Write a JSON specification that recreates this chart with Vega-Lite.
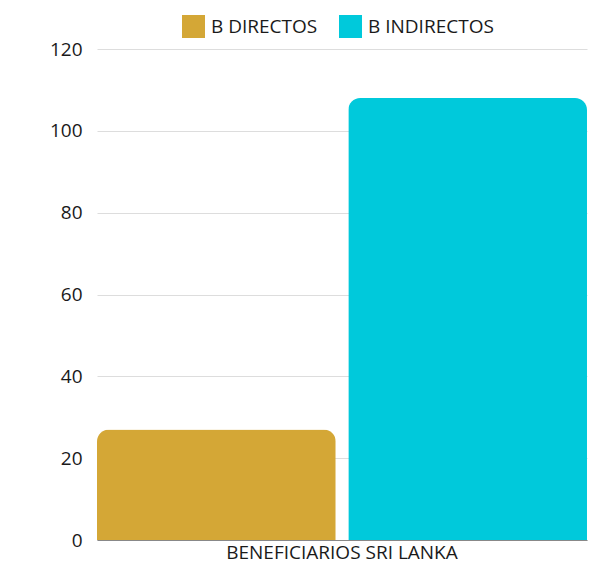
{
  "$schema": "https://vega.github.io/schema/vega-lite/v6.json",
  "width": 490,
  "height": 491,
  "autosize": {"type": "none"},
  "padding": {"left": 97, "top": 49, "right": 21, "bottom": 26},
  "background": "white",
  "config": {
    "font": "Open Sans",
    "view": {"stroke": null}
  },
  "data": {
    "values": [
      {"grupo": "BENEFICIARIOS SRI LANKA", "serie": "B DIRECTOS", "valor": 27},
      {"grupo": "BENEFICIARIOS SRI LANKA", "serie": "B INDIRECTOS", "valor": 108}
    ]
  },
  "mark": {"type": "bar", "cornerRadiusTopLeft": 12, "cornerRadiusTopRight": 12},
  "encoding": {
    "x": {
      "field": "grupo",
      "type": "nominal",
      "scale": {"paddingInner": 0, "paddingOuter": 0},
      "axis": {
        "title": null,
        "labelAngle": 0,
        "labelFontSize": 19,
        "labelColor": "#1a1a1a",
        "labelLimit": 0,
        "ticks": false,
        "domainColor": "#888",
        "labelPadding": 3
      }
    },
    "xOffset": {
      "field": "serie",
      "type": "nominal",
      "scale": {"paddingInner": 0.05, "paddingOuter": 0}
    },
    "y": {
      "field": "valor",
      "type": "quantitative",
      "scale": {"domain": [0, 120], "nice": false},
      "axis": {
        "title": null,
        "values": [0, 20, 40, 60, 80, 100, 120],
        "labelFontSize": 19,
        "labelColor": "#1a1a1a",
        "ticks": false,
        "domain": false,
        "gridColor": "#dddddd",
        "labelPadding": 15
      }
    },
    "color": {
      "field": "serie",
      "type": "nominal",
      "scale": {"domain": ["B DIRECTOS", "B INDIRECTOS"], "range": ["#D4A736", "#00C9DB"]},
      "legend": {
        "title": null,
        "orient": "none",
        "direction": "horizontal",
        "legendX": 85,
        "legendY": -34,
        "symbolType": "square",
        "symbolSize": 529,
        "symbolStrokeWidth": 0,
        "symbolOpacity": 1,
        "labelFontSize": 19,
        "labelColor": "#1a1a1a",
        "columnPadding": 21,
        "labelOffset": 6
      }
    }
  }
}
